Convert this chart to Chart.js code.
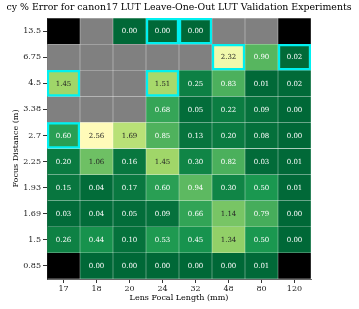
<!DOCTYPE html>
<html>
<head>
<meta charset="utf-8">
<script src="https://cdn.jsdelivr.net/npm/chart.js@4"></script>
<style>
    html, body { margin: 0; padding: 0; background: #fff; }
</style>
</head>
<body>
<canvas id="myChart" width="359" height="309"></canvas>
<script>
const focalLengths = ['17', '18', '20', '24', '32', '48', '80', '120'];
const focusDistances = ['13.5', '6.75', '4.5', '3.38', '2.7', '2.25', '1.93', '1.69', '1.5', '0.85'];

// rows top to bottom, null = no data (gray)
const errors = [
    [null, null, 0.00, 0.00, 0.00, null, null, null],
    [null, null, null, null, null, 2.32, 0.90, 0.02],
    [1.45, null, null, 1.51, 0.25, 0.83, 0.01, 0.02],
    [null, null, null, 0.68, 0.05, 0.22, 0.09, 0.00],
    [0.60, 2.56, 1.69, 0.85, 0.13, 0.20, 0.08, 0.00],
    [0.20, 1.06, 0.16, 1.45, 0.30, 0.82, 0.03, 0.01],
    [0.15, 0.04, 0.17, 0.60, 0.94, 0.30, 0.50, 0.01],
    [0.03, 0.04, 0.05, 0.09, 0.66, 1.14, 0.79, 0.00],
    [0.26, 0.44, 0.10, 0.53, 0.45, 1.34, 0.50, 0.00],
    [null, 0.00, 0.00, 0.00, 0.00, 0.00, 0.01, null]
];
// [row, col] cells drawn black
const blackCells = [[0, 0], [0, 7], [9, 0], [9, 7]];
// [row, col] cells with cyan frame
const highlighted = [[0, 3], [0, 4], [1, 5], [1, 7], [2, 0], [2, 3], [4, 0]];

const vmax = 5;
// RdYlGn reversed
const stops = ['#006837', '#1a9850', '#66bd63', '#a6d96a', '#d9ef8b', '#ffffbf',
               '#fee08b', '#fdae61', '#f46d43', '#d73027', '#a50026'];

function hexToRgb(h) {
    return [parseInt(h.slice(1, 3), 16), parseInt(h.slice(3, 5), 16), parseInt(h.slice(5, 7), 16)];
}
function cmap(v) {
    let t = Math.max(0, Math.min(1, v / vmax)) * (stops.length - 1);
    let i = Math.min(Math.floor(t), stops.length - 2);
    let f = t - i;
    let a = hexToRgb(stops[i]), b = hexToRgb(stops[i + 1]);
    let c = a.map((x, k) => Math.round(x + (b[k] - x) * f));
    return 'rgb(' + c.join(',') + ')';
}
const isIn = (list, r, c) => list.some(p => p[0] === r && p[1] === c);

const serif = "'DejaVu Serif', serif";

const datasets = errors.map((row, r) => ({
    label: focusDistances[r],
    data: focalLengths.map(() => [r, r + 1]),
    backgroundColor: row.map((v, c) => isIn(blackCells, r, c) ? '#000' : (v === null ? '#808080' : cmap(v))),
    borderColor: row.map((v, c) => isIn(highlighted, r, c) ? '#00f0f0' : 'rgba(255,255,255,0.06)'),
    borderWidth: row.map((v, c) => isIn(highlighted, r, c) ? 2.5 : 0.5),
    borderSkipped: false,
    grouped: false,
    barPercentage: 1,
    categoryPercentage: 1
}));

// cell labels + titles
const textPlugin = {
    id: 'cellText',
    afterDatasetsDraw(chart) {
        const ctx = chart.ctx;
        ctx.save();
        ctx.font = '7px ' + serif;
        ctx.textAlign = 'center';
        ctx.textBaseline = 'middle';
        chart.data.datasets.forEach((ds, r) => {
            chart.getDatasetMeta(r).data.forEach((el, c) => {
                const v = errors[r][c];
                if (v === null || isIn(blackCells, r, c)) return;
                const p = el.getCenterPoint();
                ctx.fillStyle = v >= 1.0 ? '#262626' : '#ffffff';
                ctx.fillText(v.toFixed(2), p.x, p.y + 0.5);
            });
        });
        ctx.restore();
    },
    afterDraw(chart) {
        const ctx = chart.ctx;
        const a = chart.chartArea;
        ctx.save();
        ctx.fillStyle = '#000';
        ctx.textAlign = 'center';
        ctx.textBaseline = 'middle';
        ctx.font = '9.4px ' + serif;
        ctx.fillText('cy % Error for canon17 LUT Leave-One-Out LUT Validation Experiments', (a.left + a.right) / 2, 8);
        ctx.font = '8px ' + serif;
        ctx.fillText('Lens Focal Length (mm)', (a.left + a.right) / 2, 298);
        ctx.translate(16, (a.top + a.bottom) / 2);
        ctx.rotate(-Math.PI / 2);
        ctx.fillText('Focus Distance (m)', 0, 0);
        ctx.restore();
    }
};

const ctx = document.getElementById('myChart').getContext('2d');
const myChart = new Chart(ctx, {
    type: 'bar',
    data: {
        labels: focalLengths,
        datasets: datasets
    },
    options: {
        responsive: false,
        animation: false,
        layout: {
            padding: { left: 0, right: 48, top: 18, bottom: 0 }
        },
        plugins: {
            legend: { display: false },
            tooltip: { enabled: false }
        },
        scales: {
            x: {
                offset: true,
                grid: { display: true, drawOnChartArea: false, tickLength: 4, color: '#333', offset: false },
                border: { display: true, color: '#444', width: 0.8 },
                ticks: { color: '#222', font: { family: serif, size: 8 }, padding: 1, autoSkip: false, maxRotation: 0 },
                afterFit: (scale) => { scale.height = 30; }
            },
            y: {
                min: 0,
                max: 10,
                reverse: true,
                afterBuildTicks: (scale) => {
                    scale.ticks = focusDistances.map((d, i) => ({ value: i + 0.5 }));
                },
                grid: { display: true, drawOnChartArea: false, tickLength: 4, color: '#333' },
                border: { display: true, color: '#444', width: 0.8 },
                ticks: {
                    color: '#222',
                    font: { family: serif, size: 8 },
                    padding: 2,
                    autoSkip: false,
                    callback: (value) => focusDistances[Math.floor(value)]
                },
                afterFit: (scale) => { scale.width = 47; }
            }
        }
    },
    plugins: [textPlugin]
});
</script>
</body>
</html>
